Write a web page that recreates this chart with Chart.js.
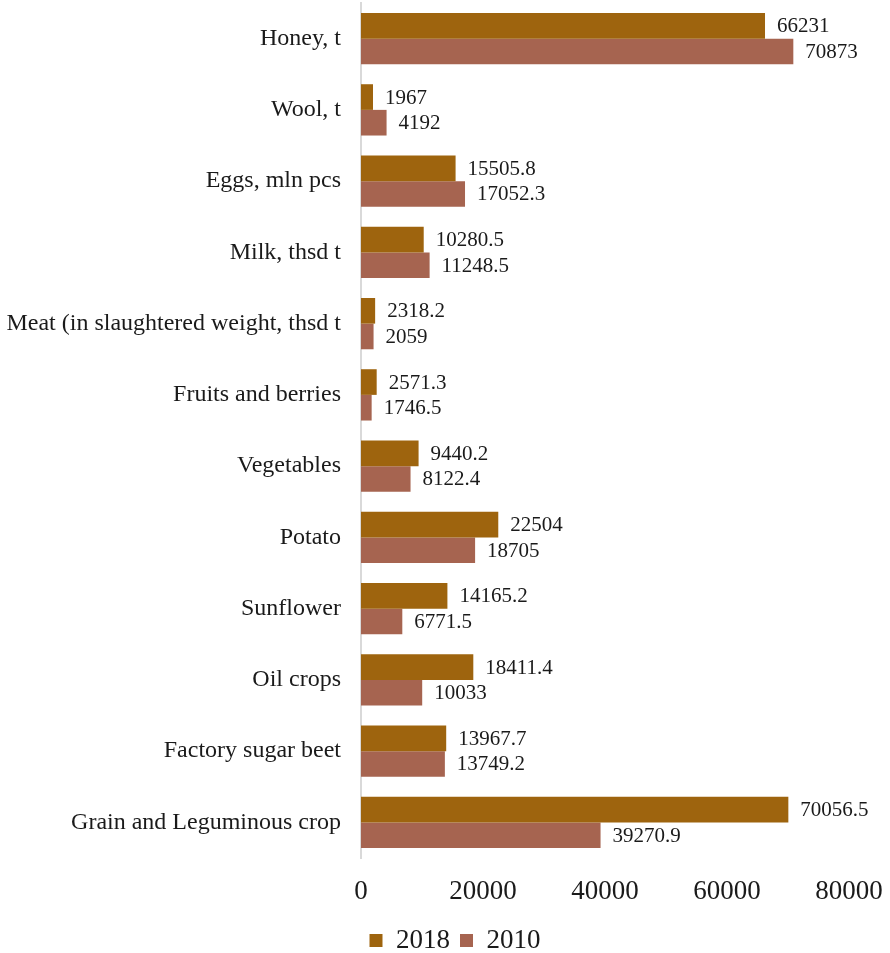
<!DOCTYPE html>
<html>
<head>
<meta charset="utf-8">
<script src="https://cdn.jsdelivr.net/npm/chart.js@4/dist/chart.umd.min.js"></script>
<style>
  html, body { margin: 0; padding: 0; background: #fff; }
  #wrap { width: 890px; height: 953px; }
</style>
</head>
<body>
<div id="wrap"><canvas id="c" width="890" height="953"></canvas></div>
<script>
// Agricultural production, 2018 vs 2010
const categories = [
  'Honey, t',
  'Wool, t',
  'Eggs, mln pcs',
  'Milk, thsd t',
  'Meat (in slaughtered weight, thsd t',
  'Fruits and berries',
  'Vegetables',
  'Potato',
  'Sunflower',
  'Oil crops',
  'Factory sugar beet',
  'Grain and Leguminous crop'
];
const values2018 = [66231, 1967, 15505.8, 10280.5, 2318.2, 2571.3, 9440.2, 22504, 14165.2, 18411.4, 13967.7, 70056.5];
const values2010 = [70873, 4192, 17052.3, 11248.5, 2059, 1746.5, 8122.4, 18705, 6771.5, 10033, 13749.2, 39270.9];
const seriesNames = ['2018', '2010'];
const xTicks = [0, 20000, 40000, 60000, 80000];

const FONT = "'Liberation Serif', 'Times New Roman', serif";
const TEXT = '#1a1a1a';

// Writes each bar's value just past its end
const valueLabels = {
  id: 'valueLabels',
  afterDatasetsDraw(chart) {
    const ctx = chart.ctx;
    ctx.save();
    ctx.font = '21px ' + FONT;
    ctx.fillStyle = TEXT;
    ctx.textAlign = 'left';
    ctx.textBaseline = 'middle';
    chart.data.datasets.forEach((ds, di) => {
      chart.getDatasetMeta(di).data.forEach((bar, i) => {
        ctx.fillText(String(ds.data[i]), bar.x + 12, bar.y + 1);
      });
    });
    ctx.restore();
  }
};

new Chart(document.getElementById('c'), {
  type: 'bar',
  data: {
    labels: categories,
    datasets: [
      { label: seriesNames[0], data: values2018, backgroundColor: '#9e640e' },
      { label: seriesNames[1], data: values2010, backgroundColor: '#a66450' }
    ]
  },
  options: {
    indexAxis: 'y',
    responsive: false,
    animation: false,
    devicePixelRatio: 1,
    layout: { padding: { top: 3, right: -20, left: 0, bottom: -11 } },
    datasets: { bar: { categoryPercentage: 0.72, barPercentage: 1.0 } },
    scales: {
      x: {
        min: xTicks[0],
        max: xTicks[xTicks.length - 1],
        afterBuildTicks(scale) { scale.ticks = xTicks.map(v => ({ value: v })); },
        grid: { display: false },
        border: { display: false },
        ticks: {
          font: { family: FONT, size: 27 },
          color: TEXT,
          padding: 10,
          maxRotation: 0,
          callback: v => String(v)
        },
        afterFit(scale) {
          scale.height = 59;
          scale.paddingLeft = 0;
          scale.paddingRight = 41;
        }
      },
      y: {
        grid: { display: false, drawTicks: false },
        border: { display: true, color: '#d9d9d9', width: 2 },
        ticks: {
          font: { family: FONT, size: 24 },
          color: TEXT,
          padding: 20
        },
        afterFit(scale) {
          scale.width = 361;
          scale.paddingTop = 0;
          scale.paddingBottom = 0;
        }
      }
    },
    plugins: {
      legend: {
        position: 'bottom',
        labels: {
          font: { family: FONT, size: 27 },
          color: TEXT,
          boxWidth: 13,
          boxHeight: 13,
          padding: 10
        }
      },
      tooltip: { enabled: false }
    }
  },
  plugins: [valueLabels]
});
</script>
</body>
</html>
